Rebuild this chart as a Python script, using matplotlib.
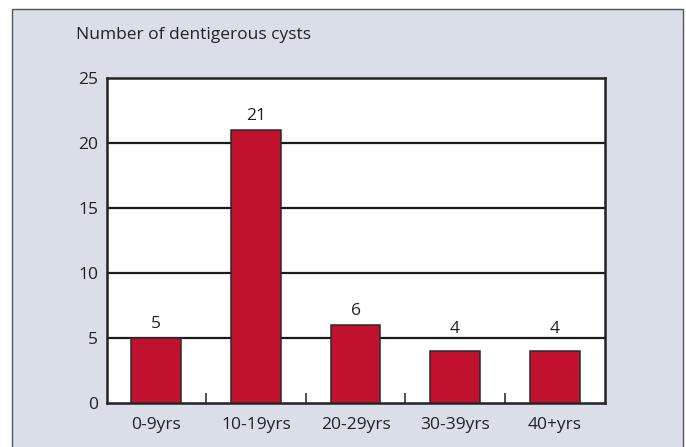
import matplotlib
matplotlib.use("Agg")
import matplotlib.pyplot as plt
from matplotlib.patches import Rectangle
import math

categories = ["0-9yrs", "10-19yrs", "20-29yrs", "30-39yrs", "40+yrs"]
values = [5, 21, 6, 4, 4]
yticks = [0, 5, 10, 15, 20, 25]
ylabel = "Number of dentigerous cysts"

plt.rcParams['font.family'] = ['Open Sans', 'DejaVu Sans']
FS = 12.5

W, H = 686, 447
fig = plt.figure(figsize=(W / 100, H / 100), dpi=100)
fig.patch.set_facecolor("white")

# panel background with border (no bottom border)
bg = Rectangle((12 / W, -0.01), (683 - 12) / W, (H - 9) / H + 0.01,
               transform=fig.transFigure, facecolor="#d9dee9",
               edgecolor="#555555", linewidth=1.0, zorder=-10)
fig.patches.append(bg)

left, right, top, bottom = 106.5, 604.5, 78, 403
ax = fig.add_axes([left / W, 1 - bottom / H, (right - left) / W, (bottom - top) / H])
ax.set_zorder(5)
ax.set_facecolor("white")

x = list(range(len(categories)))
ax.bar(x, values, width=0.5, color="#c0112e", edgecolor="#2a2a2a", linewidth=1.1, zorder=3)
for xi, v in zip(x, values):
    up = math.ceil(v / 5) * 5
    if v % 5 and up - v <= 1:
        ly, off = up, 3.6   # lift label above a nearby gridline
    else:
        ly, off = v, 7.2
    ax.annotate(str(v), (xi, ly), xytext=(0, off), textcoords="offset points",
                ha="center", va="baseline", fontsize=FS, color="#222222", zorder=6)

ax.set_xlim(-0.5, len(categories) - 0.5)
ax.set_ylim(0, 25)
ax.set_yticks(yticks)
ax.set_yticklabels([str(t) for t in yticks], fontsize=FS, color="#222222")
ax.tick_params(axis="y", length=0, pad=6)
for t in yticks[1:-1]:
    ax.axhline(t, color="#1a1a1a", linewidth=1.6, zorder=2)

ax.set_xticks(x)
ax.set_xticklabels(categories, fontsize=FS, color="#222222")
ax.tick_params(axis="x", length=0, pad=10)
ax.set_xticks([i + 0.5 for i in range(len(categories) - 1)], minor=True)
ax.tick_params(axis="x", which="minor", direction="in", length=7, width=1.2, color="#333333")

for s in ax.spines.values():
    s.set_linewidth(1.8)
    s.set_color("#222222")

fig.text(76 / W, 1 - 35 / H, ylabel, fontsize=FS, color="#222222", ha="left", va="center")

fig.savefig("out.png", dpi=100)
